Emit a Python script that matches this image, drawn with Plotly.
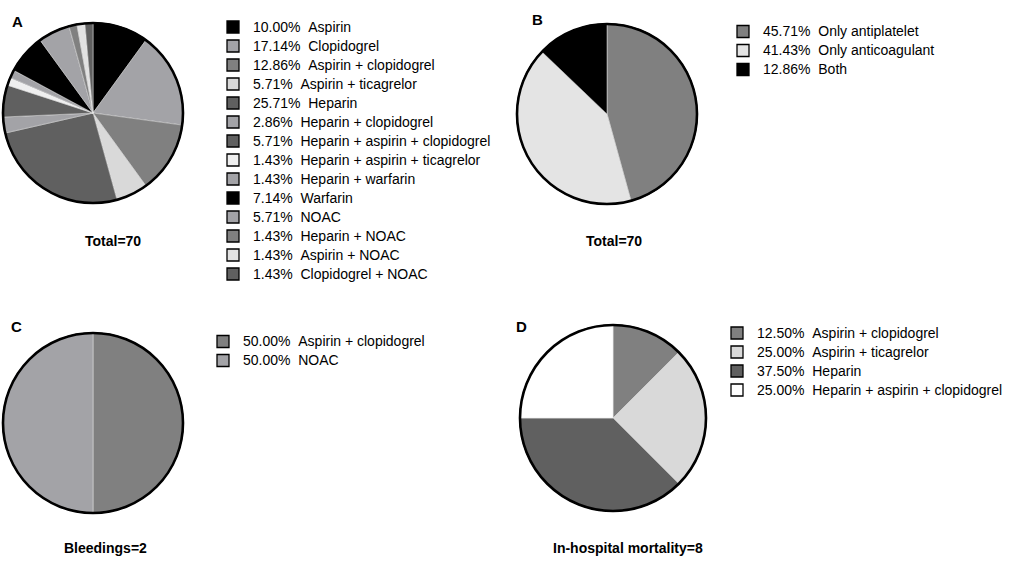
import plotly.graph_objects as go

W, H = 1021, 561

# ---- Data ----
a_names = ["Aspirin", "Clopidogrel", "Aspirin + clopidogrel", "Aspirin + ticagrelor", "Heparin",
           "Heparin + clopidogrel", "Heparin + aspirin + clopidogrel", "Heparin + aspirin + ticagrelor",
           "Heparin + warfarin", "Warfarin", "NOAC", "Heparin + NOAC", "Aspirin + NOAC", "Clopidogrel + NOAC"]
a_pct = [10.00, 17.14, 12.86, 5.71, 25.71, 2.86, 5.71, 1.43, 1.43, 7.14, 5.71, 1.43, 1.43, 1.43]
a_colors = ["#000000", "#a3a3a7", "#808080", "#d9d9d9", "#606060", "#a3a3a7", "#606060", "#efefef",
            "#a3a3a7", "#000000", "#a3a3a7", "#808080", "#e2e2e2", "#606060"]

b_names = ["Only antiplatelet", "Only anticoagulant", "Both"]
b_pct = [45.71, 41.43, 12.86]
b_colors = ["#808080", "#e4e4e4", "#000000"]

c_names = ["Aspirin + clopidogrel", "NOAC"]
c_pct = [50.00, 50.00]
c_colors = ["#808080", "#a3a3a7"]

d_names = ["Aspirin + clopidogrel", "Aspirin + ticagrelor", "Heparin", "Heparin + aspirin + clopidogrel"]
d_pct = [12.50, 25.00, 37.50, 25.00]
d_colors = ["#808080", "#d9d9d9", "#606060", "#ffffff"]

panel_letters = ["A", "B", "C", "D"]
panel_titles = ["Total=70", "Total=70", "Bleedings=2", "In-hospital mortality=8"]

FONT = "Liberation Sans, Arial, sans-serif"


def px_dom(x0, x1, y0, y1):
    return dict(x=[x0 / W, x1 / W], y=[1 - y1 / H, 1 - y0 / H])


panels = [
    (a_names, a_pct, a_colors, px_dom(3, 183, 23, 203), "legend", "A"),
    (b_names, b_pct, b_colors, px_dom(517, 697, 24, 204), "legend2", "B"),
    (c_names, c_pct, c_colors, px_dom(3, 183, 333, 513), "legend3", "C"),
    (d_names, d_pct, d_colors, px_dom(520, 706, 325, 511), "legend4", "D"),
]

fig = go.Figure()
for names, pct, cols, dom, leg, key in panels:
    labels = [f'<span style="font-size:14px">{v:.2f}%\u00a0\u00a0{n}</span>' for v, n in zip(pct, names)]
    # base layer: gives legend entries with black-bordered boxes
    fig.add_trace(go.Pie(labels=labels, values=pct, sort=False, direction="clockwise", rotation=0,
                         marker=dict(colors=cols, line=dict(color="#000000", width=1.3)),
                         textinfo="none", hoverinfo="label", domain=dom, legend=leg,
                         showlegend=True, name=key))
    # slices with fine light separators
    fig.add_trace(go.Pie(labels=labels, values=pct, sort=False, direction="clockwise", rotation=0,
                         marker=dict(colors=cols, line=dict(color="#e6e6e6", width=0.5)),
                         textinfo="none", hoverinfo="label", domain=dom, legend=leg,
                         showlegend=False, name=key))
    # black outer ring
    fig.add_trace(go.Pie(labels=[f"outline {key}"], values=[sum(pct)], sort=False,
                         marker=dict(colors=["rgba(0,0,0,0)"], line=dict(color="#000000", width=2.6)),
                         textinfo="none", hoverinfo="skip", domain=dom, legend=leg,
                         showlegend=False, name=key))


def leg(xpx, ypx):
    return dict(x=xpx / W, y=1 - ypx / H, xanchor="left", yanchor="top",
                bgcolor="rgba(0,0,0,0)", borderwidth=0,
                font=dict(family=FONT, size=12, color="#000000"),
                tracegroupgap=0, itemclick=False, itemdoubleclick=False)


annotations = []
letter_pos = [(17, 21), (537, 20), (16, 326), (521, 326)]
title_pos = [(113, 241), (614, 241), (105, 548), (628, 548)]
for (lx, ly), t in zip(letter_pos, panel_letters):
    annotations.append(dict(text=f"<b>{t}</b>", x=lx / W, y=1 - ly / H, xref="paper", yref="paper",
                            showarrow=False, xanchor="center", yanchor="middle",
                            font=dict(family=FONT, size=15, color="#000000")))
for (tx, ty), t in zip(title_pos, panel_titles):
    annotations.append(dict(text=f"<b>{t}</b>", x=tx / W, y=1 - ty / H, xref="paper", yref="paper",
                            showarrow=False, xanchor="center", yanchor="middle",
                            font=dict(family=FONT, size=14, color="#000000")))

fig.update_layout(
    width=W, height=H, margin=dict(l=0, r=0, t=0, b=0),
    paper_bgcolor="#ffffff", plot_bgcolor="#ffffff",
    font=dict(family=FONT, size=14, color="#000000"),
    legend=leg(213, 12.5),
    legend2=leg(723, 17),
    legend3=leg(203, 327),
    legend4=leg(717, 318.5),
    annotations=annotations,
)

fig.write_html("out.html", config={"displayModeBar": False},
               post_script="document.body.style.margin='0';document.body.style.padding='0';")
